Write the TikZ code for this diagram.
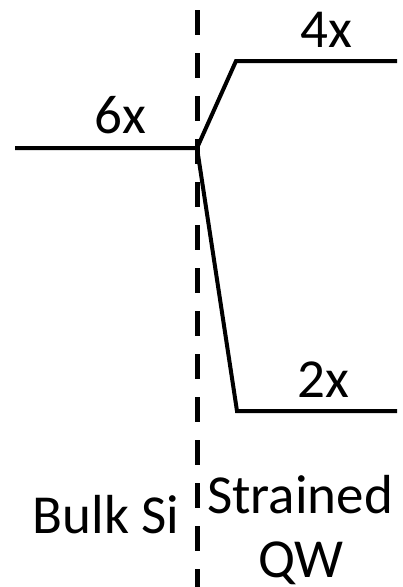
\documentclass[tikz,border=0pt]{standalone}
\usepackage{fontspec}
\setmainfont{Carlito}
\begin{document}
\begin{tikzpicture}[
  x=1pt, y=-1pt,
  level/.style={line width=4pt, line join=miter},
  divider/.style={line width=5pt, dash pattern=on 25pt off 18pt},
  lbl/.style={font=\fontsize{55}{60}\selectfont, anchor=base, inner sep=0pt},
]
\useasboundingbox (0,0) rectangle (403,587);

% Dividing line between the two regions
\coordinate (top) at (197,10);
\coordinate (bot) at (197,587);
\draw[divider] (top) -- (bot);

% Energy levels
\coordinate (bulkL) at (15,148);
\coordinate (split) at (197,148);
\coordinate (upL) at (236,61);
\coordinate (upR) at (397,61);
\coordinate (loL) at (237,411);
\coordinate (loR) at (397,411);
\draw[level] (bulkL) -- (split) -- (upL) -- (upR);
\draw[level] (split) -- (loL) -- (loR);

% Degeneracy labels
\node[lbl] (six) at (120,133) {6x};
\node[lbl] (four) at (326,47) {4x};
\node[lbl] (two) at (323,397) {2x};

% Region labels
\node[lbl] (bulk) at (106,533) {Bulk Si};
\node[lbl] (strained) at (300,513) {Strained};
\node[lbl] (qw) at (301,577) {QW};

\end{tikzpicture}
\end{document}
